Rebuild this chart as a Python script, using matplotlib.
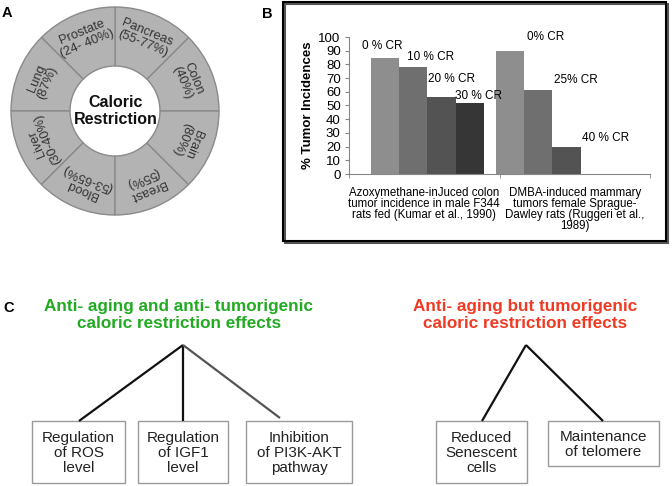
import numpy as np
import matplotlib.pyplot as plt
from matplotlib.patches import Wedge, Rectangle

plt.rcParams['font.family'] = ['Liberation Sans', 'DejaVu Sans']

# ---------------- data ----------------
# panel A: ring segments, counter-clockwise starting right of 3 o'clock
organs = ['Colon', 'Pancreas', 'Prostate', 'Lung', 'Liver', 'Blood', 'Breast', 'Brain']
organ_pct = ['(40%)', '(55-77%)', '(24- 40%)', '(87%)', '(30-40%)', '(53-65%)', '(55%)', '(80%)']

# panel B: tumor incidence (%)
study_labels = ['Azoxymethane-inJuced colon\ntumor incidence in male F344\nrats fed (Kumar et al., 1990)',
                'DMBA-induced mammary\ntumors female Sprague-\nDawley rats (Ruggeri et al.,\n1989)']
colon_cr = ['0 % CR', '10 % CR', '20 % CR', '30 % CR']
colon_vals = [85, 78, 56, 52]
mammary_cr = ['0% CR', '25% CR', '40 % CR']
mammary_vals = [90, 61, 20]

# panel C
green_title = 'Anti- aging and anti- tumorigenic\ncaloric restriction effects'
red_title = 'Anti- aging but tumorigenic\ncaloric restriction effects'
green_items = ['Regulation\nof ROS\nlevel', 'Regulation\nof IGF1\nlevel', 'Inhibition\nof PI3K-AKT\npathway']
red_items = ['Reduced\nSenescent\ncells', 'Maintenance\nof telomere']

W, H = 672, 486
fig = plt.figure(figsize=(W / 100, H / 100), dpi=100)

# background axes in pixel coords (y down)
bg = fig.add_axes([0, 0, 1, 1])
bg.set_xlim(0, W)
bg.set_ylim(H, 0)
bg.axis('off')

##########################################################
# A - ring
##########################################################
cx, cy, r_out, r_in = 115, 111, 104, 45
step = 360 / len(organs)
for k in range(len(organs)):
    # y is flipped here so data angles run the other way
    bg.add_patch(Wedge((cx, cy), r_out, -(k + 1) * step, -k * step, width=r_out - r_in,
                       fc='#b3b3b3', ec='#8a8a8a', lw=1))
    phi = np.radians((k + 0.5) * step)
    r_lab = 79
    bg.text(cx + r_lab * np.cos(phi), cy - r_lab * np.sin(phi), organs[k] + '\n' + organ_pct[k],
            rotation=np.degrees(phi) - 90, rotation_mode='anchor', ha='center', va='center',
            fontsize=9.3, color='#333333', linespacing=1.0)
bg.text(116, 111, 'Caloric\nRestriction', ha='center', va='center', fontsize=11.5,
        fontweight='bold', color='#111111', linespacing=1.1)
bg.text(2, 17, 'A', fontsize=10.5, fontweight='bold', va='baseline')

##########################################################
# B - bar chart
##########################################################
bg.add_patch(Rectangle((285, 4), 383, 239, fill=False, ec='#555555', lw=1.5))
bg.add_patch(Rectangle((283, 2), 383, 239, fill=False, ec='black', lw=1.5))
bg.text(262, 18, 'B', fontsize=10.5, fontweight='bold', va='baseline')

ax = fig.add_axes([349 / W, 1 - 174 / H, 301 / W, 137 / H])
bw = 0.188
shift = [0.02, -0.148]
greys = ['#8e8e8e', '#6f6f6f', '#535353', '#363636']
# label offsets from bar top (pixels)
lab_off = [[(-3, 12), (17, 10), (10, 18), (9, 7)], [(36, 14), (38, 10), (39, 9)]]
for g, (vals, labs) in enumerate([(colon_vals, colon_cr), (mammary_vals, mammary_cr)]):
    xs = g + shift[g] + (np.arange(len(vals)) - 1.5) * bw
    ax.bar(xs, vals, bw, color=greys[:len(vals)])
    for i in range(len(vals)):
        ax.annotate(labs[i], (xs[i], vals[i]), xytext=lab_off[g][i], textcoords='offset pixels',
                    ha='center', va='center', fontsize=8.5)

ax.set_xlim(-0.5, 1.5)
ax.set_ylim(0, 100)
ax.set_yticks(np.arange(0, 110, 10))
ax.set_xticks([0, 1], study_labels, fontsize=8.3, linespacing=0.92)
ax.set_xticks([-0.5, 0.5, 1.5], minor=True)
ax.tick_params(axis='x', which='major', length=0, pad=9)
ax.tick_params(axis='x', which='minor', length=3, color='#868686')
ax.tick_params(axis='y', length=3, color='#868686', labelsize=9.5, pad=3)
for s in ['top', 'right']:
    ax.spines[s].set_visible(False)
for s in ['left', 'bottom']:
    ax.spines[s].set_color('#868686')
ax.set_ylabel('% Tumor Incidences', fontsize=9.5, fontweight='bold', labelpad=3)

##########################################################
# C - diagrams
##########################################################
bg.text(3, 312, 'C', fontsize=10.5, fontweight='bold', va='baseline')
bg.text(179, 315, green_title, ha='center', va='center', fontsize=12.3, fontweight='bold',
        color='#22aa22', linespacing=1.2)
bg.text(525, 315, red_title, ha='center', va='center', fontsize=12.3, fontweight='bold',
        color='#ef3b24', linespacing=1.2)

green_boxes = [(32, 421, 125, 483), (138, 421, 228, 483), (246, 421, 352, 483)]
red_boxes = [(436, 421, 527, 483), (548, 421, 659, 466)]
green_ends = [(79, 421), (183, 421), (280, 418)]
red_ends = [(482, 421), (603, 421)]
green_line_cols = ['#111111', '#111111', '#555555']

for e, c in zip(green_ends, green_line_cols):
    bg.plot([183, e[0]], [345, e[1]], color=c, lw=1.6, solid_capstyle='butt')
for e in red_ends:
    bg.plot([526, e[0]], [345, e[1]], color='#111111', lw=1.6, solid_capstyle='butt')

for boxes, items in [(green_boxes, green_items), (red_boxes, red_items)]:
    for (x0, y0, x1, y1), txt in zip(boxes, items):
        bg.add_patch(Rectangle((x0, y0), x1 - x0, y1 - y0, fill=True, fc='white',
                               ec='#9a9a9a', lw=1))
        bg.text((x0 + x1) / 2, (y0 + y1) / 2 + 1, txt, ha='center', va='center', fontsize=11,
                color='#222222', linespacing=1.12)

fig.savefig('out.png', dpi=100)
